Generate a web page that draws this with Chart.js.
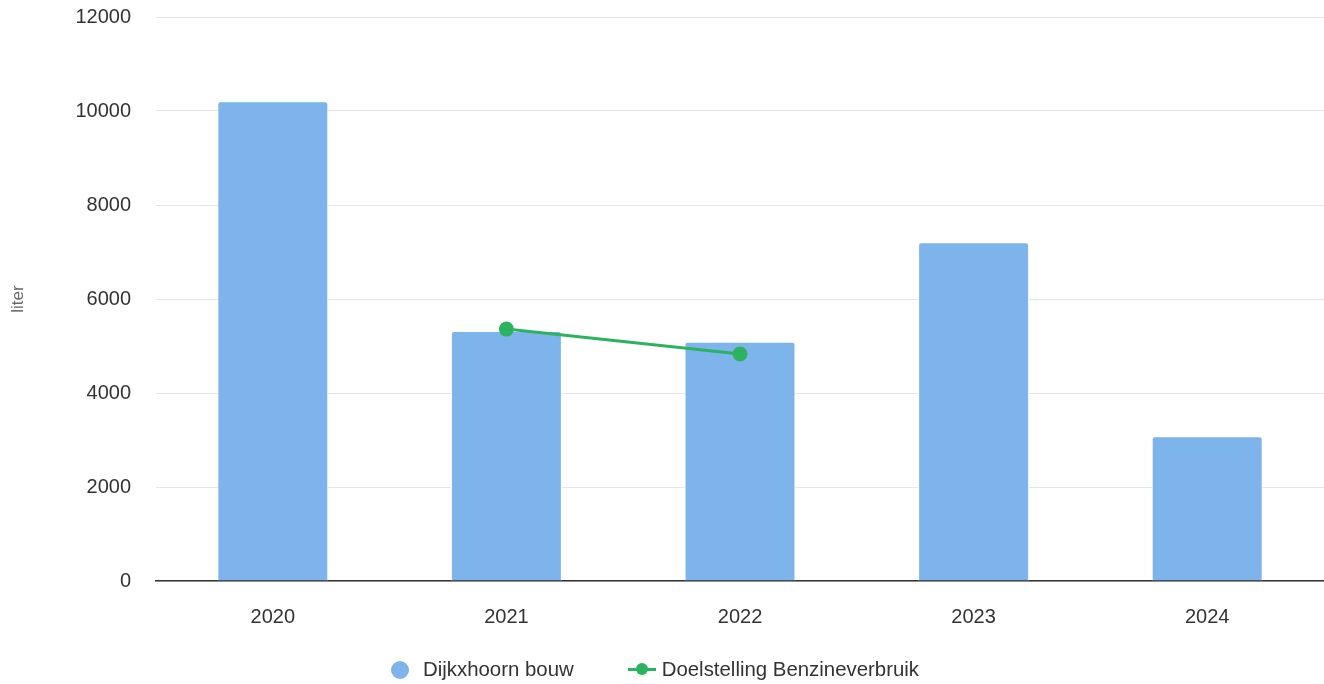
<!DOCTYPE html>
<html>
<head>
<meta charset="utf-8">
<script src="https://cdn.jsdelivr.net/npm/chart.js@4/dist/chart.umd.min.js"></script>
<style>
  html, body { margin: 0; padding: 0; background: #fff; }
  #wrap { position: relative; width: 1324px; height: 684px; }
  #legend {
    position: absolute; left: -7px; top: 658px; width: 1324px;
    display: flex; justify-content: center; align-items: center;
    font-family: 'Liberation Sans', Arial, sans-serif; font-size: 20.4px; color: #333;
  }
  .item { display: flex; align-items: center; margin: 0 27px; }
  .dot { width: 18px; height: 18px; border-radius: 50%; margin-right: 14px; }
  .line { position: relative; width: 28px; height: 3px; margin-right: 6px; }
  .line span { position: absolute; left: 8px; top: -5px; width: 12px; height: 12px; border-radius: 50%; }
</style>
</head>
<body>
<div id="wrap">
  <canvas id="myChart" width="1324" height="684"></canvas>
  <div id="legend"></div>
</div>
<script>
var years = ['2020', '2021', '2022', '2023', '2024'];
var verbruik = [10210, 5320, 5090, 7210, 3080];
var doelstelling = [null, 5360, 4830, null, null];

var barColor = '#7cb4eb';
var lineColor = '#2db360';
var font = 'Liberation Sans, Arial, sans-serif';

var ctx = document.getElementById('myChart');
var myChart = new Chart(ctx, {
  data: {
    labels: years,
    datasets: [{
      type: 'line',
      label: 'Doelstelling Benzineverbruik',
      data: doelstelling,
      borderColor: lineColor,
      backgroundColor: lineColor,
      borderWidth: 3,
      pointRadius: 6,
      pointHoverRadius: 6,
      order: 0
    }, {
      type: 'bar',
      label: 'Dijkxhoorn bouw',
      data: verbruik,
      backgroundColor: barColor,
      borderColor: '#ffffff',
      borderWidth: 1,
      borderRadius: { topLeft: 3, topRight: 3 },
      borderSkipped: 'bottom',
      barPercentage: 0.95,
      categoryPercentage: 0.5,
      order: 1
    }]
  },
  options: {
    responsive: false,
    animation: false,
    layout: { autoPadding: false, padding: { top: 0, right: 0, left: 0, bottom: 31 } },
    plugins: {
      tooltip: { enabled: false },
      legend: { display: false }
    },
    scales: {
      x: {
        grid: { display: false, drawTicks: false },
        border: { color: '#333', width: 1.5 },
        ticks: {
          color: '#333',
          padding: 24,
          font: { family: font, size: 20 }
        },
        afterFit: function (s) { s.paddingLeft = 0; s.paddingRight = 0; s.paddingTop = 0; s.paddingBottom = 0; }
      },
      y: {
        min: 0,
        max: 12000,
        ticks: {
          stepSize: 2000,
          color: '#333',
          padding: 25,
          font: { family: font, size: 20 },
          callback: function (v) { return String(v); }
        },
        grid: { color: '#e6e6e6', drawTicks: false },
        border: { display: false },
        title: {
          display: true,
          text: 'liter',
          color: '#666',
          padding: { top: 8, bottom: 22 },
          font: { family: font, size: 17 }
        },
        afterFit: function (s) { s.paddingTop = 17; s.paddingBottom = 12; s.paddingLeft = 0; s.paddingRight = 0; }
      }
    }
  }
});

// legend in HTML, built from the datasets (bar first)
var legend = document.getElementById('legend');
[myChart.data.datasets[1], myChart.data.datasets[0]].forEach(function (ds) {
  var item = document.createElement('div');
  item.className = 'item';
  var mark = document.createElement('div');
  if (ds.type === 'bar') {
    mark.className = 'dot';
    mark.style.background = ds.backgroundColor;
  } else {
    mark.className = 'line';
    mark.style.background = ds.borderColor;
    var s = document.createElement('span');
    s.style.background = ds.borderColor;
    mark.appendChild(s);
  }
  var txt = document.createElement('span');
  txt.textContent = ds.label;
  item.appendChild(mark);
  item.appendChild(txt);
  legend.appendChild(item);
});
</script>
</body>
</html>
